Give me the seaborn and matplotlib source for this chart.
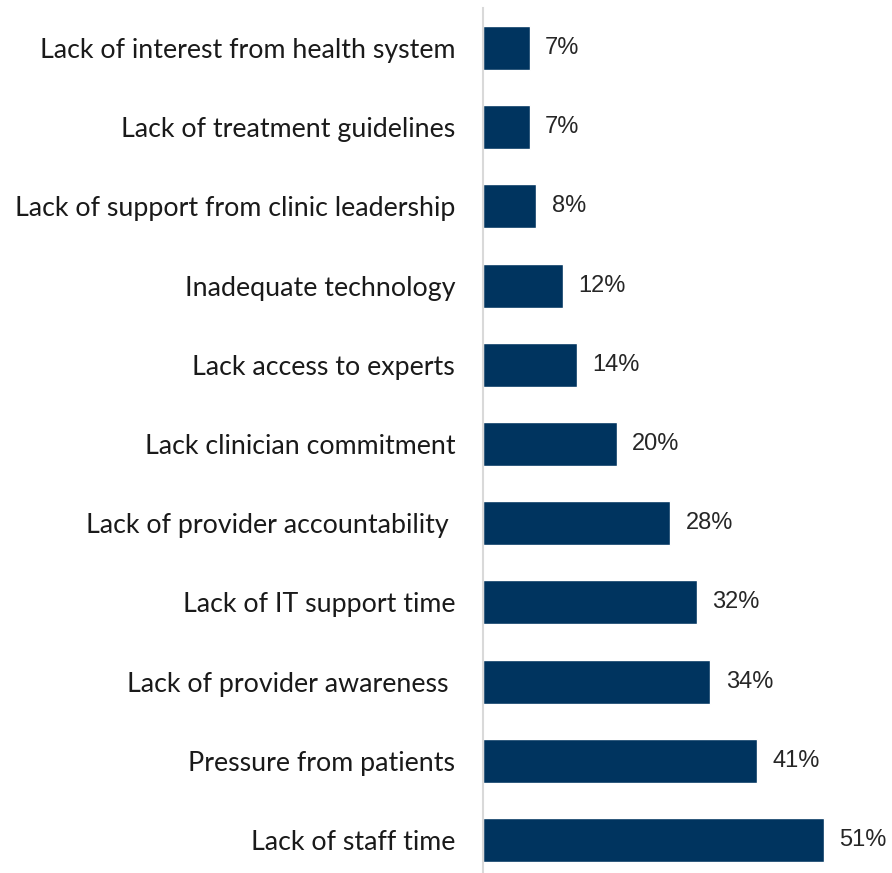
import matplotlib
matplotlib.use("Agg")
import matplotlib.pyplot as plt
import seaborn as sns
import pandas as pd

categories = [
    "Lack of interest from health system",
    "Lack of treatment guidelines",
    "Lack of support from clinic leadership",
    "Inadequate technology",
    "Lack access to experts",
    "Lack clinician commitment",
    "Lack of provider accountability ",
    "Lack of IT support time",
    "Lack of provider awareness ",
    "Pressure from patients",
    "Lack of staff time",
]
values = [7, 7, 8, 12, 14, 20, 28, 32, 34, 41, 51]

df = pd.DataFrame({"category": categories, "value": values})

sns.set_theme(style="white")
fig = plt.figure(figsize=(8.92, 8.73), dpi=100)
W, H = 892, 873
ax = fig.add_axes([483 / W, 0, 409 / W, (H - 8) / H])

sns.barplot(data=df, x="value", y="category", orient="h", color="#00345F",
            saturation=1, width=0.556, ax=ax)

ax.set_xlim(0, 409 / (341 / 51))
ax.set_ylim(10 + 33 / 79.2, -40 / 79.2)

for c in ax.containers:
    ax.bar_label(c, labels=[f"{v}%" for v in values], padding=11,
                 fontsize=17, family="Liberation Sans", color="#262626")

ax.set_xlabel("")
ax.set_ylabel("")
ax.set_xticks([])
ax.tick_params(axis="y", length=0, pad=20)
for lab in ax.get_yticklabels():
    lab.set_fontfamily("Lato")
    lab.set_fontsize(19.3)
    lab.set_color("#1a1a1a")
for s in ["top", "right", "bottom"]:
    ax.spines[s].set_visible(False)
ax.spines["left"].set_color("#d9d9d9")
ax.spines["left"].set_linewidth(1.5)

fig.savefig("out.png", dpi=100)
